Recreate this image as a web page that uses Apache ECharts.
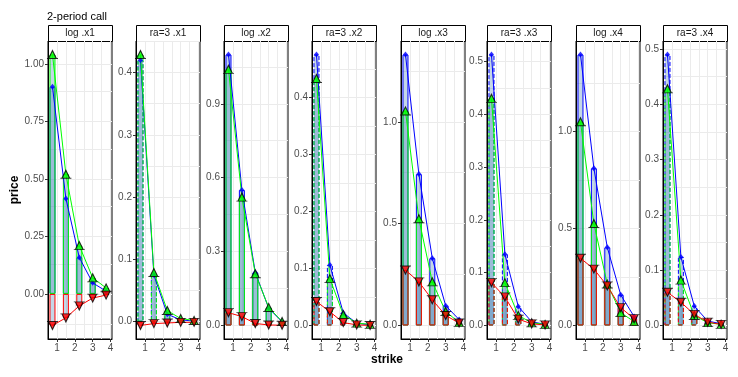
<!DOCTYPE html>
<html>
<head>
<meta charset="utf-8">
<script src="https://cdn.jsdelivr.net/npm/echarts@6/dist/echarts.min.js"></script>
<style>
  html, body { margin: 0; padding: 0; background: #fff; }
  #chart { width: 738px; height: 377px; }
</style>
</head>
<body>
<div id="chart"></div>
<script>
// facets, left to right
let panelNames = ['log .x1', 'ra=3 .x1', 'log .x2', 'ra=3 .x2', 'log .x3', 'ra=3 .x3', 'log .x4', 'ra=3 .x4'];
let strikes = [0.75, 1.5, 2.25, 3, 3.75];

let greenVals = [
  [1.04, 0.52, 0.21, 0.07, 0.026],
  [0.429, 0.079, 0.018, 0.005, 0.002],
  [1.04, 0.521, 0.21, 0.073, 0.016],
  [0.433, 0.082, 0.019, 0.004, 0.002],
  [1.053, 0.524, 0.214, 0.068, 0.015],
  [0.43, 0.081, 0.019, 0.005, 0.002],
  [1.051, 0.526, 0.214, 0.066, 0.02],
  [0.428, 0.082, 0.018, 0.005, 0.002],
];
let blueVals = [
  [0.9, 0.415, 0.158, 0.048, 0.012],
  [0.42, 0.075, 0.012, 0.003, 0.001],
  [1.1, 0.55, 0.215, 0.07, 0.015],
  [0.475, 0.106, 0.022, 0.004, 0.001],
  [1.33, 0.743, 0.33, 0.097, 0.029],
  [0.513, 0.135, 0.036, 0.007, 0.002],
  [1.398, 0.811, 0.403, 0.158, 0.046],
  [0.49, 0.124, 0.035, 0.008, 0.003],
];
let redVals = [
  [-0.137, -0.104, -0.052, -0.018, -0.005],
  [-0.006, -0.003, -0.002, -0.001, -0.001],
  [0.052, 0.036, 0.008, 0.002, 0.001],
  [0.042, 0.024, 0.005, 0.001, 0.0],
  [0.272, 0.214, 0.126, 0.049, 0.012],
  [0.081, 0.054, 0.012, 0.003, 0.001],
  [0.347, 0.291, 0.204, 0.092, 0.035],
  [0.06, 0.042, 0.02, 0.006, 0.002],
];

let xTicks = [1, 2, 3, 4];
let xGrid = [0.5, 1, 1.5, 2, 2.5, 3, 3.5, 4];
let yTicks = [
  [0, 0.25, 0.5, 0.75, 1],
  [0, 0.1, 0.2, 0.3, 0.4],
  [0, 0.3, 0.6, 0.9],
  [0, 0.1, 0.2, 0.3, 0.4],
  [0, 0.5, 1],
  [0, 0.1, 0.2, 0.3, 0.4, 0.5],
  [0, 0.5, 1],
  [0, 0.1, 0.2, 0.3, 0.4, 0.5],
];
let yDigits = [2, 1, 1, 1, 1, 1, 1, 1];

// layout
let panelLeft = [48, 136, 224, 312, 401, 487, 576, 663];
let panelWidth = 64;
let plotTop = 41;
let plotBottom = 339;

let fill = 'rgba(70,130,180,0.32)';

function pairs(vals) {
  return strikes.map((s, j) => [s, vals[j]]);
}

let grids = [];
let xAxes = [];
let yAxes = [];
let series = [];
let graphics = [];

panelNames.forEach((name, i) => {
  let dashed = name.indexOf('ra') === 0;
  let all = [0].concat(greenVals[i], blueVals[i], redVals[i]);
  let lo = Math.min(...all);
  let hi = Math.max(...all);
  let pad = (hi - lo) * 0.05;
  let yMin = lo - pad;
  let yMax = hi + pad;

  grids.push({
    left: panelLeft[i],
    width: panelWidth,
    top: plotTop,
    height: plotBottom - plotTop,
    show: true,
    borderColor: '#000',
    borderWidth: 1,
    backgroundColor: '#fff',
  });

  xAxes.push({
    type: 'value',
    gridIndex: i,
    min: 0.5,
    max: 4.08,
    axisLine: { show: true, onZero: false, lineStyle: { color: '#000' } },
    axisTick: { show: true, length: 3, customValues: xTicks, lineStyle: { color: '#333' } },
    axisLabel: { customValues: xTicks, color: '#4d4d4d', fontSize: 10, margin: 4 },
    splitLine: { show: false },
  });

  yAxes.push({
    type: 'value',
    gridIndex: i,
    min: yMin,
    max: yMax,
    axisLine: { show: true, lineStyle: { color: '#000' } },
    axisTick: { show: true, length: 3, customValues: yTicks[i], lineStyle: { color: '#333' } },
    axisLabel: {
      customValues: yTicks[i],
      color: '#4d4d4d',
      fontSize: 10,
      margin: 4,
      formatter: (v) => Number(v).toFixed(yDigits[i]),
    },
    splitLine: { show: false },
  });

  // grid lines (major + minor), kept under the marks
  let half = (yTicks[i][1] - yTicks[i][0]) / 2;
  let gridVals = [];
  for (let k = Math.ceil(yMin / half); k * half <= yMax; k++) {
    gridVals.push(+(k * half).toFixed(6));
  }
  series.push({
    type: 'line',
    xAxisIndex: i,
    yAxisIndex: i,
    data: [],
    z: 0,
    silent: true,
    markLine: {
      z: 0,
      silent: true,
      symbol: 'none',
      animation: false,
      label: { show: false },
      emphasis: { disabled: true },
      lineStyle: { color: '#ebebeb', type: 'solid', width: 1 },
      data: gridVals.map((v) => ({ yAxis: v })).concat(xGrid.map((v) => ({ xAxis: v }))),
    },
  });

  let barType = dashed ? 'dashed' : 'solid';
  let bars = [
    [blueVals[i], '#0000ff', 1],
    [greenVals[i], '#00ff00', 1],
    [redVals[i], '#ff0000', 1],
  ];
  bars.forEach((b) => {
    series.push({
      type: 'bar',
      xAxisIndex: i,
      yAxisIndex: i,
      data: pairs(b[0]),
      barWidth: 6,
      barGap: '-100%',
      z: 2,
      itemStyle: { color: fill, borderColor: b[1], borderWidth: b[2], borderType: barType },
    });
  });

  let lines = [
    [blueVals[i], '#0000ff'],
    [greenVals[i], '#00ff00'],
    [redVals[i], '#ff0000'],
  ];
  lines.forEach((l) => {
    series.push({
      type: 'line',
      xAxisIndex: i,
      yAxisIndex: i,
      data: pairs(l[0]),
      showSymbol: false,
      z: 3,
      lineStyle: { color: l[1], width: 1 },
    });
  });

  series.push({
    type: 'scatter',
    xAxisIndex: i,
    yAxisIndex: i,
    data: pairs(blueVals[i]),
    symbol: 'diamond',
    symbolSize: [5, 6],
    z: 4,
    itemStyle: { color: '#0000ff' },
  });
  series.push({
    type: 'scatter',
    xAxisIndex: i,
    yAxisIndex: i,
    data: pairs(greenVals[i]),
    symbol: 'path://M0,9L14,9M2,9L7,0L12,9Z',
    symbolSize: [11, 8],
    z: 5,
    itemStyle: { color: '#00ff00', borderColor: '#000', borderWidth: 1 },
  });
  series.push({
    type: 'scatter',
    xAxisIndex: i,
    yAxisIndex: i,
    data: pairs(redVals[i]),
    symbol: 'path://M0,0L14,0M2,0L7,9L12,0Z',
    symbolSize: [11, 8],
    z: 5,
    itemStyle: { color: '#ff0000', borderColor: '#000', borderWidth: 1 },
  });

  // strip label
  graphics.push({
    type: 'rect',
    shape: { x: panelLeft[i] + 0.5, y: 25.5, width: panelWidth, height: plotTop - 25 },
    style: { fill: '#fff', stroke: '#000', lineWidth: 1 },
  });
  graphics.push({
    type: 'text',
    x: panelLeft[i] + panelWidth / 2,
    y: 33,
    style: {
      text: name,
      fill: '#1a1a1a',
      font: '10px "Liberation Sans", Arial, sans-serif',
      align: 'center',
      verticalAlign: 'middle',
    },
  });
});

graphics.push({
  type: 'text',
  x: 15,
  y: 190,
  rotation: Math.PI / 2,
  style: {
    text: 'price',
    fill: '#000',
    font: 'bold 12px "Liberation Sans", Arial, sans-serif',
    align: 'center',
    verticalAlign: 'middle',
  },
});
graphics.push({
  type: 'text',
  x: 387,
  y: 360,
  style: {
    text: 'strike',
    fill: '#000',
    font: 'bold 12px "Liberation Sans", Arial, sans-serif',
    align: 'center',
    verticalAlign: 'middle',
  },
});

let myecharts = echarts.init(document.getElementById('chart'));
myecharts.setOption({
  animation: false,
  textStyle: { fontFamily: '"Liberation Sans", Arial, sans-serif' },
  title: {
    text: '2-period call',
    left: 47,
    top: 11,
    padding: 0,
    textStyle: { color: '#000', fontSize: 11, fontWeight: 'normal' },
  },
  grid: grids,
  xAxis: xAxes,
  yAxis: yAxes,
  series: series,
  graphic: graphics,
});
</script>
</body>
</html>
